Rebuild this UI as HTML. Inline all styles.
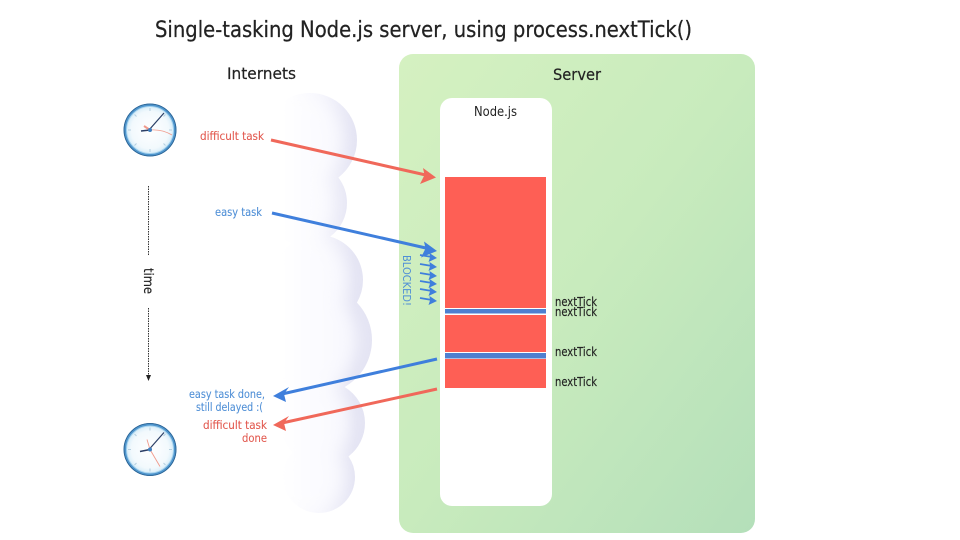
<!DOCTYPE html>
<html>
<head>
<meta charset="utf-8">
<style>
html,body{margin:0;padding:0;background:#fff;width:960px;height:540px;overflow:hidden}
svg{display:block;filter:blur(0.35px)}
text{font-family:"DejaVu Sans","Liberation Sans",sans-serif}
</style>
</head>
<body>
<svg width="960" height="540" viewBox="0 0 960 540" xmlns="http://www.w3.org/2000/svg">
<defs>
<linearGradient id="srv" x1="0" y1="0" x2="1" y2="1">
<stop offset="0" stop-color="#d5f1c1"/><stop offset="0.5" stop-color="#c8ebbd"/><stop offset="1" stop-color="#b4dfba"/>
</linearGradient>
<linearGradient id="cl" gradientUnits="userSpaceOnUse" x1="280" y1="0" x2="345" y2="0">
<stop offset="0" stop-color="#ffffff"/><stop offset="1" stop-color="#f8f8fe"/>
</linearGradient>
<linearGradient id="edge" gradientUnits="userSpaceOnUse" x1="285" y1="0" x2="355" y2="0">
<stop offset="0" stop-color="#ffffff"/><stop offset="0.5" stop-color="#f5f5fc"/><stop offset="1" stop-color="#e4e4f3"/>
</linearGradient>
<filter id="soft" x="-30%" y="-30%" width="160%" height="160%"><feGaussianBlur stdDeviation="8"/></filter>
<clipPath id="cloudclip">
<circle cx="310" cy="140" r="47"/>
<circle cx="305" cy="203" r="42"/>
<circle cx="318" cy="280" r="45"/>
<circle cx="318" cy="340" r="54"/>
<circle cx="323" cy="423" r="42"/>
<circle cx="319" cy="477" r="36"/>
</clipPath>
<radialGradient id="face" cx="0.5" cy="0.5" r="0.5">
<stop offset="0" stop-color="#ffffff"/><stop offset="0.8" stop-color="#f2f9fd"/><stop offset="1" stop-color="#d9eef9"/>
</radialGradient>
<g id="clock">
<circle r="26.500" fill="#4d94cc"/>
<circle r="26" fill="none" stroke="#2a5f8e" stroke-width="0.800"/>
<circle r="23.500" fill="url(#face)" stroke="#a5d2ee" stroke-width="1"/>
<g stroke="#b5cfdf" stroke-width="1">
<line x1="0" y1="-22" x2="0" y2="-19"/><line x1="0" y1="22" x2="0" y2="19"/>
<line x1="-22" y1="0" x2="-19" y2="0"/><line x1="22" y1="0" x2="19" y2="0"/>
<line x1="-15.500" y1="-15.500" x2="-13.500" y2="-13.500"/><line x1="15.500" y1="-15.500" x2="13.500" y2="-13.500"/>
<line x1="-15.500" y1="15.500" x2="-13.500" y2="13.500"/><line x1="15.500" y1="15.500" x2="13.500" y2="13.500"/>
</g>
</g>
</defs>

<text x="155" y="37" font-size="22" fill="#222" stroke="#222" stroke-width="0.250" textLength="537" lengthAdjust="spacingAndGlyphs">Single-tasking Node.js server, using process.nextTick()</text>

<!-- clouds -->
<g clip-path="url(#cloudclip)">
<rect x="255" y="85" width="130" height="435" fill="url(#edge)"/>
<g fill="url(#cl)" filter="url(#soft)">
<circle cx="294" cy="140" r="47"/>
<circle cx="289" cy="203" r="42"/>
<circle cx="302" cy="280" r="45"/>
<circle cx="302" cy="340" r="54"/>
<circle cx="307" cy="423" r="42"/>
<circle cx="307" cy="477" r="36"/>
</g>
</g>

<text x="227" y="79" font-size="16" fill="#222" stroke="#222" stroke-width="0.200" textLength="69" lengthAdjust="spacingAndGlyphs">Internets</text>

<!-- server -->
<rect x="399" y="54" width="356" height="479" rx="14" fill="url(#srv)"/>
<text x="553" y="80" font-size="16" fill="#222" stroke="#222" stroke-width="0.200" textLength="48" lengthAdjust="spacingAndGlyphs">Server</text>

<!-- node -->
<rect x="440" y="98" width="112" height="408" rx="12" fill="#fff"/>
<text x="474" y="116" font-size="13" fill="#222" textLength="43" lengthAdjust="spacingAndGlyphs">Node.js</text>
<rect x="445" y="177" width="101" height="211" fill="#fe5f55"/>
<rect x="445" y="308" width="101" height="7" fill="#fff"/>
<rect x="445" y="309" width="101" height="4.500" fill="#4f7fd0"/>
<rect x="445" y="352" width="101" height="7" fill="#fff"/>
<rect x="445" y="353" width="101" height="5.500" fill="#4f7fd0"/>

<g font-size="12.500" fill="#222" stroke="#222" stroke-width="0.150">
<text x="555" y="306" textLength="42" lengthAdjust="spacingAndGlyphs">nextTick</text>
<text x="555" y="316" textLength="42" lengthAdjust="spacingAndGlyphs">nextTick</text>
<text x="555" y="356" textLength="42" lengthAdjust="spacingAndGlyphs">nextTick</text>
<text x="555" y="386" textLength="42" lengthAdjust="spacingAndGlyphs">nextTick</text>
</g>

<!-- clocks -->
<g transform="translate(150,130)">
<use href="#clock"/>
<line x1="-1" y1="0" x2="14" y2="-17" stroke="#2b3f66" stroke-width="1.200"/>
<line x1="0" y1="0" x2="-9" y2="1" stroke="#2b3f66" stroke-width="1.500"/>
<path d="M0 0 Q12 -1 22 5" fill="none" stroke="#f09a8c" stroke-width="0.800"/>
<line x1="-6" y1="-4" x2="0" y2="0" stroke="#f09a8c" stroke-width="2"/>
<circle r="2" fill="#3f7fbf"/>
</g>
<g transform="translate(150,449.500)">
<use href="#clock"/>
<line x1="-1" y1="0" x2="14" y2="-17" stroke="#2b3f66" stroke-width="1.200"/>
<line x1="0" y1="0" x2="-10" y2="2" stroke="#2b3f66" stroke-width="1.500"/>
<line x1="0" y1="0" x2="10" y2="17" stroke="#f09a8c" stroke-width="0.900"/>
<line x1="0" y1="0" x2="-3" y2="-10" stroke="#f09a8c" stroke-width="0.900"/>
<circle r="2" fill="#3f7fbf"/>
</g>

<!-- time axis -->
<line x1="148.500" y1="186" x2="148.500" y2="255" stroke="#333" stroke-width="1" stroke-dasharray="1.500 1"/>
<line x1="148.500" y1="308" x2="148.500" y2="376" stroke="#333" stroke-width="1" stroke-dasharray="1.500 1"/>
<path d="M146 375 L151 375 L148.500 381 Z" fill="#222"/>
<text transform="translate(144,268) rotate(90)" font-size="13.500" fill="#222" stroke="#222" stroke-width="0.150" textLength="26" lengthAdjust="spacingAndGlyphs">time</text>

<!-- labels -->
<g font-size="11.500" fill="#e25a50" stroke="#e25a50" stroke-width="0.100" text-anchor="end">
<text x="264" y="140" textLength="64" lengthAdjust="spacingAndGlyphs">difficult task</text>
<text x="267" y="429" textLength="64" lengthAdjust="spacingAndGlyphs">difficult task</text>
<text x="267" y="442" textLength="25" lengthAdjust="spacingAndGlyphs">done</text>
</g>
<g font-size="11.500" fill="#4f8fd6" stroke="#4f8fd6" stroke-width="0.100" text-anchor="end">
<text x="262" y="216" textLength="47" lengthAdjust="spacingAndGlyphs">easy task</text>
<text x="265" y="398" textLength="76" lengthAdjust="spacingAndGlyphs">easy task done,</text>
<text x="263" y="411" textLength="67" lengthAdjust="spacingAndGlyphs">still delayed :(</text>
</g>
<text transform="translate(403,255) rotate(90)" font-size="11" fill="#4f8fd6" font-family="Liberation Sans" textLength="51" lengthAdjust="spacingAndGlyphs">BLOCKED!</text>

<!-- main arrows -->
<line x1="271" y1="140" x2="428" y2="175.500" stroke="#f0685a" stroke-width="3"/>
<path d="M436 177.500 L420 184 L424.500 175 L423 168 Z" fill="#f0685a"/>
<line x1="272" y1="213" x2="428" y2="248.500" stroke="#3f7fdc" stroke-width="3"/>
<path d="M437 251 L421 257.500 L425.500 248.500 L424 241.500 Z" fill="#3f7fdc"/>
<line x1="437" y1="359" x2="282" y2="394" stroke="#3f7fdc" stroke-width="3"/>
<path d="M273 396 L289 387 L284 394 L286 402 Z" fill="#3f7fdc"/>
<line x1="437" y1="389" x2="282" y2="423" stroke="#f0685a" stroke-width="3"/>
<path d="M273 425 L289 416 L284 423 L286 431 Z" fill="#f0685a"/>

<!-- small blocked arrows -->
<g stroke="#3f7fdc" stroke-width="1.700" fill="#3f7fdc">
<line x1="420" y1="255" x2="432" y2="257"/><path stroke="none" d="M437 258 L428.500 262 L430 257.500 L429.500 253 Z"/>
<line x1="420" y1="264" x2="432" y2="266"/><path stroke="none" d="M437 267 L428.500 271 L430 266.500 L429.500 262 Z"/>
<line x1="420" y1="273" x2="432" y2="275"/><path stroke="none" d="M437 276 L428.500 280 L430 275.500 L429.500 271 Z"/>
<line x1="420" y1="281" x2="432" y2="283"/><path stroke="none" d="M437 284 L428.500 288 L430 283.500 L429.500 279 Z"/>
<line x1="420" y1="289" x2="432" y2="291"/><path stroke="none" d="M437 292 L428.500 296 L430 291.500 L429.500 287 Z"/>
<line x1="420" y1="298" x2="432" y2="300"/><path stroke="none" d="M437 301 L428.500 305 L430 300.500 L429.500 296 Z"/>
</g>
</svg>
</body>
</html>
